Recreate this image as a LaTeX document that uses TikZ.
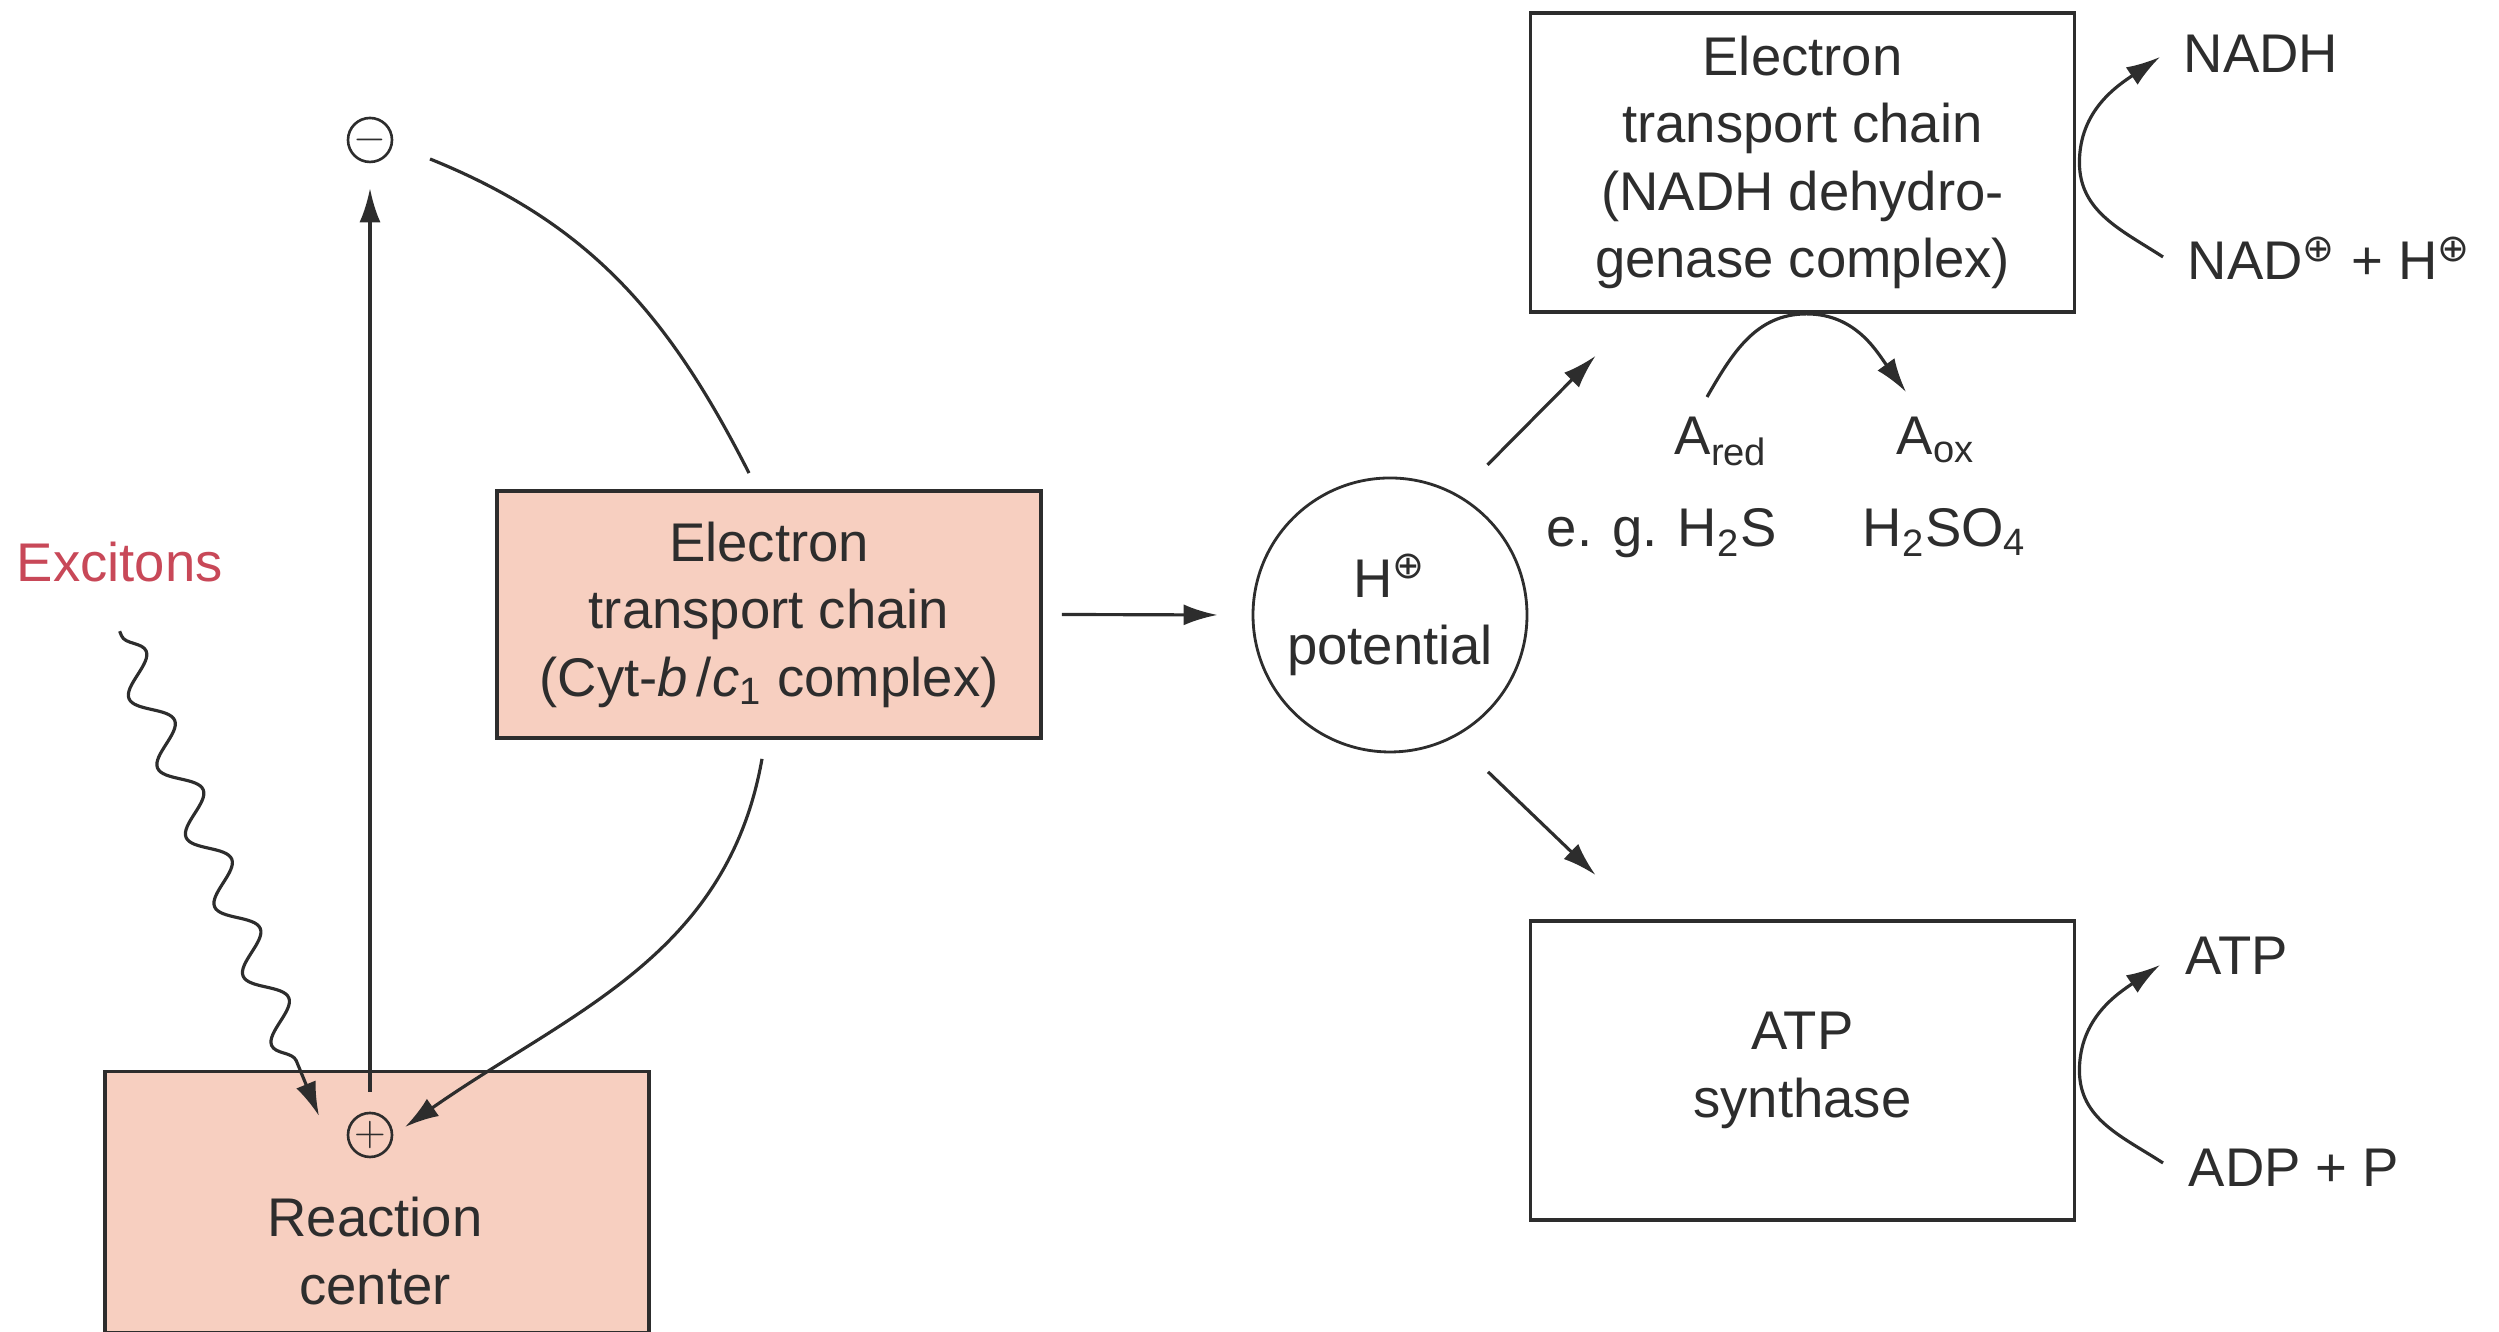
\documentclass[tikz,border=0pt]{standalone}
\usepackage{fontspec}
\setmainfont{Liberation Sans}
\newfontfamily\symbfont{DejaVu Sans}
\usepackage{xcolor}
\usetikzlibrary{positioning,arrows.meta,calc,decorations.pathmorphing}

\definecolor{boxfill}{RGB}{247,207,192}
\definecolor{inkgray}{RGB}{45,45,45}
\definecolor{excred}{RGB}{200,72,88}

\newcommand{\ionplus}{\textsuperscript{\symbfont ⊕}}

\begin{document}
\begin{tikzpicture}[
		font=\fontsize{15.5}{19.2}\selectfont,
		every node/.style={text=inkgray},
		box/.style={draw=inkgray, line width=1.1pt, minimum width=5.44cm, align=center, inner sep=0pt},
		sign/.style={circle, draw=inkgray, line width=0.75pt, minimum size=0.44cm, inner sep=0pt, font=\fontsize{12}{12}\selectfont},
		lbl/.style={anchor=base west, inner sep=0pt},
		conn/.style={draw=inkgray, line width=0.9pt},
		arr/.style={conn, -{Latex[length=0.34cm,width=0.21cm]}},
		wavy/.style={arr, decorate, decoration={snake, segment length=0.75cm, amplitude=0.17cm, pre length=0.05cm, post length=0.45cm}}
	]
		
		\useasboundingbox (0,0) rectangle (24.99,13.32);
		
		% left side
		\node[box, fill=boxfill, minimum height=2.61cm] (rc) at (3.77,1.30) {};
		\node[align=center, inner sep=0pt] (rctext) at (3.75,0.81) {Reaction\\center};
		\node[sign] (plus) at (3.70,1.97) {$+$};
		\node[sign] (minus) at (3.70,11.92) {$-$};
		\node[lbl, text=excred] (excitons) at (0.16,7.50) {Excitons};
		
		\node[box, fill=boxfill, minimum height=2.47cm] (cyt) at (7.69,7.175)
		{Electron\\transport chain\\(Cyt-\textit{b}\,/\textit{c}\textsubscript{1} complex)};
		
		\node[circle, draw=inkgray, line width=0.8pt, minimum size=2.74cm, align=center, inner sep=0pt] (hpot) at (13.90,7.17)
		{H\ionplus\\potential};
		
		% right side
		\node[box, minimum height=2.99cm] (nadbox) at (18.025,11.695)
		{Electron\\transport chain\\(NADH dehydro-\\genase complex)};
		\node[box, minimum height=2.99cm] (atpbox) at (18.025,2.615)
		{ATP\\synthase};
		
		\node[lbl] (nadh) at (21.83,12.59) {NADH};
		\node[lbl] (nadp) at (21.87,10.52) {NAD\ionplus{} + H\ionplus};
		\node[lbl] (atp) at (21.85,3.57) {ATP};
		\node[lbl] (adp) at (21.88,1.45) {ADP + P};
		\node[lbl] (ared) at (16.74,8.77) {A\textsubscript{red}};
		\node[lbl] (aox) at (18.96,8.77) {A\textsubscript{ox}};
		\node[lbl] (h2s) at (15.46,7.85) {e. g. H\textsubscript{2}S};
		\node[lbl] (h2so4) at (18.62,7.85) {H\textsubscript{2}SO\textsubscript{4}};
		
		% connectors
		\draw[arr, shorten <=0.2cm, shorten >=0.25cm] (plus) -- (minus);
		\draw[wavy] ([yshift=-4.8mm]excitons.south) -- ([shift={(-0.51,0.19)}]plus.center);
		\draw[conn] ([shift={(0.60,-0.19)}]minus.center) to[out=-22,in=117] ([shift={(-0.20,0.16)}]cyt.north);
		\draw[arr] ([shift={(-0.07,-0.19)}]cyt.south) to[out=-100,in=35] ([shift={(0.35,0.08)}]plus.center);
		
		\draw[arr] ([xshift=0.19cm]cyt.east) -- ([xshift=-0.34cm]hpot.west);
		\draw[arr] ([shift={(57:1.79)}]hpot.center) -- ([shift={(0.67,-0.42)}]nadbox.south west);
		\draw[arr] ([shift={(-58:1.85)}]hpot.center) -- ([shift={(0.67,0.44)}]atpbox.north west);
		
		\draw[arr] ([shift={(-0.24,0.23)}]nadp.base west) to[out=147,in=-90] ([xshift=0.03cm]nadbox.east)
		to[out=90,in=214] ([shift={(-0.23,0.16)}]nadh.base west);
		\draw[arr] ([shift={(-0.25,0.24)}]adp.base west) to[out=147,in=-90] ([xshift=0.03cm]atpbox.east)
		to[out=90,in=214] ([shift={(-0.25,0.10)}]atp.base west);
		\draw[arr] ([shift={(0.33,0.58)}]ared.base west) to[out=60,in=180] ([xshift=0.04cm]nadbox.south)
		to[out=0,in=126] ([shift={(0.10,0.63)}]aox.base west);
		
	\end{tikzpicture}
\end{document}
